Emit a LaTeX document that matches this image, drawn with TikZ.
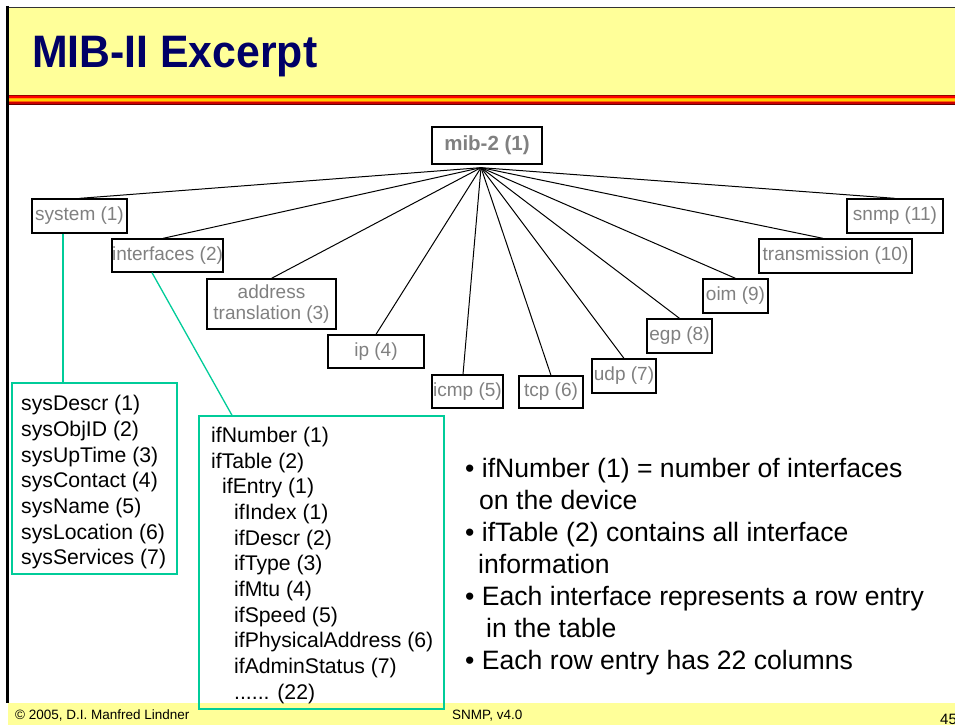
\documentclass[tikz,border=0pt]{standalone}
\usepackage{fontspec}
\setmainfont{Liberation Sans}
\usepackage{graphicx}

\definecolor{hdryellow}{HTML}{FFFF99}
\definecolor{titlenavy}{HTML}{000066}
\definecolor{leafgray}{HTML}{808080}
\definecolor{mibgreen}{HTML}{00CC99}
\definecolor{stripeA}{HTML}{990000}
\definecolor{stripeB}{HTML}{FF0000}
\definecolor{stripeC}{HTML}{FF9900}
\definecolor{stripeD}{HTML}{FFCC00}
\definecolor{stripeE}{HTML}{FF6600}
\definecolor{stripeF}{HTML}{CC0000}
\definecolor{stripeG}{HTML}{660000}

\tikzset{
  leaf/.style={draw=black, line width=1.3pt, text=leafgray, inner sep=0pt,
    align=center, font=\fontsize{19}{21.7}\selectfont},
  branch/.style={draw=black, line width=1pt},
  greenline/.style={draw=mibgreen, line width=1.3pt},
  listbox/.style={draw=mibgreen, line width=1.4pt, inner sep=0pt},
  listline/.style={anchor=base west, inner sep=0pt, font=\fontsize{21.2}{25}\selectfont},
  noteline/.style={anchor=base west, inner sep=0pt, font=\fontsize{26.6}{32}\selectfont},
  footline/.style={anchor=base west, inner sep=0pt, font=\fontsize{13.5}{15}\selectfont},
}

\begin{document}
\begin{tikzpicture}[x=1pt, y=-1pt]
\useasboundingbox (0,0) rectangle (955,725);
\fill[white] (0,0) rectangle (955,725);

% slide frame: header, rainbow rule, footer, left edge
\fill[hdryellow] (8,8) rectangle (955,95);
\draw[black!80, line width=1.5pt] (7,7.5) -- (955,7.5);
\foreach \c [count=\i] in {stripeA,stripeB,stripeC,stripeD,stripeE,stripeF,stripeG}
  \fill[\c] (8,{95+(\i-1)*1.43}) rectangle (955,{95+\i*1.43});
\fill[hdryellow] (8,703) rectangle (955,725);
\draw[black, line width=3pt] (7.5,6) -- (7.5,703);

\node[anchor=base west, inner sep=0pt, text=titlenavy,
      font=\fontsize{45.5}{50}\selectfont\bfseries] (title) at (32,67.5)
      {\scalebox{0.94}[1]{MIB-II Excerpt}};

% MIB-II subtree
\node[leaf, font=\fontsize{20.5}{24}\selectfont\bfseries, minimum width=110pt, minimum height=37pt] (mib) at (487,145.5) {mib-2 (1)};
\coordinate (hub) at ([xshift=-6pt,yshift=-3pt]mib.south);

\node[leaf, minimum width=95pt,  minimum height=34pt] (system)  at (79.5,216)  {system (1)};
\node[leaf, minimum width=111pt, minimum height=33pt] (ifaces)  at (167.5,255.5) {interfaces (2)};
\node[leaf, minimum width=129pt, minimum height=50pt] (at)      at (271.5,304) {address\\translation (3)};
\node[leaf, minimum width=96pt,  minimum height=33pt] (ip)      at (376,351.5) {ip (4)};
\node[leaf, minimum width=71pt,  minimum height=33pt] (icmp)    at (467.5,391.5) {icmp (5)};
\node[leaf, minimum width=64pt,  minimum height=32pt] (tcp)     at (551,392)   {tcp (6)};
\node[leaf, minimum width=64pt,  minimum height=34pt] (udp)     at (624,376)   {udp (7)};
\node[leaf, minimum width=65pt,  minimum height=34pt] (egp)     at (679.5,336) {egp (8)};
\node[leaf, minimum width=65pt,  minimum height=34pt] (oim)     at (735.5,296) {oim (9)};
\node[leaf, minimum width=153pt, minimum height=34pt] (trans)   at (835.5,256) {transmission (10)};
\node[leaf, minimum width=96pt,  minimum height=34pt] (snmp)    at (895,216)   {snmp (11)};

\draw[branch] (hub) -- (system.north);
\draw[branch] (hub) -- ([xshift=-4.5pt]ifaces.north);
\draw[branch] (hub) -- (at.north);
\draw[branch] (hub) -- (ip.north);
\draw[branch] (hub) -- ([xshift=-4.5pt]icmp.north);
\draw[branch] (hub) -- (tcp.north);
\draw[branch] (hub) -- (udp.north);
\draw[branch] (hub) -- (egp.north);
\draw[branch] (hub) -- (oim.north);
\draw[branch] (hub) -- ([xshift=-12.5pt]trans.north);
\draw[branch] (hub) -- (snmp.north);

% system group
\node[listbox, minimum width=165pt, minimum height=191pt] (sysbox) at (94.5,478.5) {};
\foreach \t [count=\i] in {{sysDescr (1)},{sysObjID (2)},{sysUpTime (3)},{sysContact (4)},
    {sysName (5)},{sysLocation (6)},{sysServices (7)}}
  \node[listline] (sys\i) at (21,{410.7+(\i-1)*25.7}) {\t};
\coordinate (systap) at ([xshift=-16.5pt]system.south);
\draw[greenline] (systap) -- (systap |- sysbox.north);

% interfaces group
\node[listbox, minimum width=245pt, minimum height=293pt] (ifbox) at (321.5,562.5) {};
\foreach \x/\t [count=\i] in {211/{ifNumber (1)},211/{ifTable (2)},222/{ifEntry (1)},
    234/{ifIndex (1)},234/{ifDescr (2)},234/{ifType (3)},234/{ifMtu (4)},234/{ifSpeed (5)},
    234/{ifPhysicalAddress (6)},234/{ifAdminStatus (7)},234/{...... (22)}}
  \node[listline] (if\i) at (\x,{442.3+(\i-1)*25.7}) {\t};
\draw[greenline] ([xshift=-15.5pt]ifaces.south) -- ([xshift=-89.5pt]ifbox.north);

% notes
\node[noteline] (n1) at (465,477) {• ifNumber (1) = number of interfaces};
\node[noteline] (n2) at (479,509) {on the device};
\node[noteline] (n3) at (465,541) {• ifTable (2) contains all interface};
\node[noteline] (n4) at (478,573) {information};
\node[noteline] (n5) at (465,605) {• Each interface represents a row entry};
\node[noteline] (n6) at (486,637) {in the table};
\node[noteline] (n7) at (465,669) {• Each row entry has 22 columns};

% footer
\node[footline] (copy) at (15,719.5) {© 2005, D.I. Manfred Lindner};
\node[footline] (course) at (452,719.5) {SNMP, v4.0};
\node[footline, font=\fontsize{15}{17}\selectfont] (page) at (940,724) {45};
\end{tikzpicture}
\end{document}
